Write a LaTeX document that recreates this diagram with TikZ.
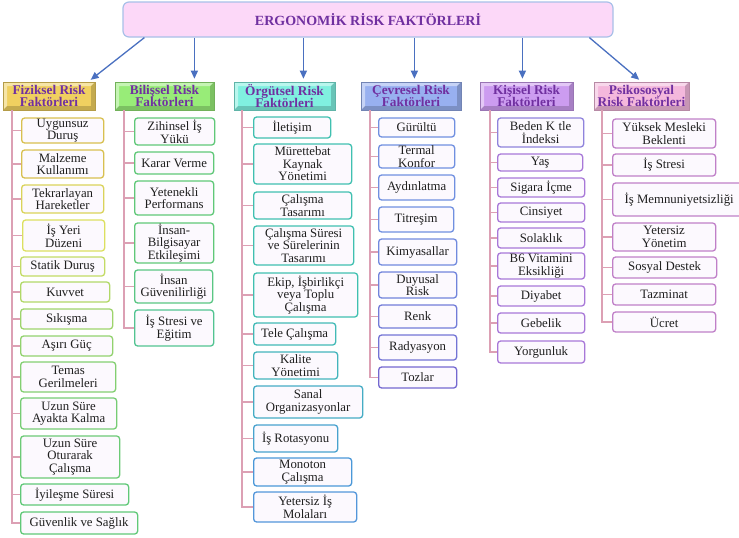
\documentclass[tikz,border=0pt]{standalone}
\usepackage{fontspec}
\setmainfont{Liberation Serif}
\usetikzlibrary{arrows.meta}

\definecolor{mor}{HTML}{7030A0}
\definecolor{okmavi}{HTML}{4A70C0}
\definecolor{dalpembe}{HTML}{DCA0B4}
\definecolor{kutuic}{HTML}{FCF9FE}
\definecolor{anapembe}{HTML}{FCD8F8}
\definecolor{anakenar}{HTML}{A8C0E8}
% başlık dolguları
\definecolor{fizR}{HTML}{F0D060}
\definecolor{bilR}{HTML}{98EC78}
\definecolor{orgR}{HTML}{80F0E0}
\definecolor{cevR}{HTML}{98B0F0}
\definecolor{kisR}{HTML}{CC9CF0}
\definecolor{psiR}{HTML}{F4B8DC}
% kutu kenarları
\definecolor{altin}{HTML}{D8C050}
\definecolor{sari}{HTML}{DCE060}
\definecolor{yesil}{HTML}{60C878}
\definecolor{turkuaz}{HTML}{40C0B0}
\definecolor{camgobegi}{HTML}{4A98D8}
\definecolor{mavi}{HTML}{7090E0}
\definecolor{menekse}{HTML}{7468D0}
\definecolor{eflatun}{HTML}{A878D8}
\definecolor{pembemor}{HTML}{C080C8}

\tikzset{
  anabaslik/.style={draw=anakenar, line width=1.2pt, fill=anapembe, rounded corners=6pt,
    font=\fontsize{14}{16}\selectfont\bfseries, text=mor, minimum width=490pt, minimum height=35pt},
  baslik/.style={draw=#1!75!black, line width=0.6pt, fill=#1, text=mor, align=center, inner sep=0pt,
    font=\fontsize{13.3}{12.6}\selectfont\bfseries, minimum height=28pt,
    path picture={
      \fill[white, opacity=.45] (path picture bounding box.north west) -- (path picture bounding box.north east)
        -- ([shift={(-4pt,-4pt)}]path picture bounding box.north east) -- ([shift={(4pt,-4pt)}]path picture bounding box.north west)
        -- ([shift={(4pt,4pt)}]path picture bounding box.south west) -- (path picture bounding box.south west) -- cycle;
      \fill[black, opacity=.18] (path picture bounding box.south west) -- (path picture bounding box.south east)
        -- (path picture bounding box.north east) -- ([shift={(-4pt,-4pt)}]path picture bounding box.north east)
        -- ([shift={(-4pt,4pt)}]path picture bounding box.south east) -- ([shift={(4pt,4pt)}]path picture bounding box.south west) -- cycle;
    }},
  kutu/.style={draw=#1, line width=1.3pt, fill=kutuic, rounded corners=3pt, anchor=west, align=center,
    inner sep=0pt, font=\fontsize{12.8}{12.6}\selectfont, text=black!88},
  dal/.style={dalpembe, line width=1.3pt},
  ok/.style={okmavi, line width=1.3pt, ->, shorten >=3pt},
}

\begin{document}
\begin{tikzpicture}[x=1pt, y=-1pt, >={Triangle[length=8pt,width=7pt]}]
	\useasboundingbox (0,0) rectangle (739,538);
	% ana başlık
	\node[anabaslik] (ana) at (368,19.5) {ERGONOMİK RİSK FAKTÖRLERİ};
	% kategori başlıkları
	\node[baslik=fizR, minimum width=92pt] (fiz) at (49,96) {Fiziksel Risk\\Faktörleri};
	\node[baslik=bilR, minimum width=99pt] (bil) at (164.5,96) {Bilişsel Risk\\Faktörleri};
	\node[baslik=orgR, minimum width=101pt] (org) at (284.5,96) {Örgütsel Risk\\Faktörleri};
	\node[baslik=cevR, minimum width=100pt] (cev) at (411,96) {Çevresel Risk\\Faktörleri};
	\node[baslik=kisR, minimum width=93pt] (kis) at (526.5,96) {Kişisel Risk\\Faktörleri};
	\node[baslik=psiR, minimum width=95pt] (psi) at (641.5,96) {Psikososyal\\Risk Faktörleri};
	% oklar
	\draw[ok] ([xshift=22pt]ana.south west) -- ([xshift=-7pt]fiz.north east);
	\draw[ok] ([xshift=72pt]ana.south west) coordinate (a2) -- (a2 |- bil.north);
	\draw[ok] ([xshift=181pt]ana.south west) coordinate (a3) -- (a3 |- org.north);
	\draw[ok] ([xshift=292pt]ana.south west) coordinate (a4) -- (a4 |- cev.north);
	\draw[ok] ([xshift=400pt]ana.south west) coordinate (a5) -- (a5 |- kis.north);
	\draw[ok] ([xshift=467pt]ana.south west) -- (psi.north);

	% fiziksel
	\node[kutu=altin, minimum width=82pt, minimum height=25pt] (f1) at (21,130.5) {Uygunsuz\\Duruş};
	\node[kutu=altin, minimum width=82pt, minimum height=28pt] (f2) at (21,164) {Malzeme\\Kullanımı};
	\node[kutu=altin!40!sari, minimum width=82pt, minimum height=28pt] (f3) at (21,199) {Tekrarlayan\\Hareketler};
	\node[kutu=sari, minimum width=82pt, minimum height=31pt] (f4) at (22,235.5) {İş Yeri\\Düzeni};
	\node[kutu=sari!80!yesil, minimum width=84pt, minimum height=19pt] (f5) at (20,266.5) {Statik Duruş};
	\node[kutu=sari!65!yesil, minimum width=89pt, minimum height=20pt] (f6) at (20,292) {Kuvvet};
	\node[kutu=sari!50!yesil, minimum width=92pt, minimum height=20pt] (f7) at (20,319) {Sıkışma};
	\node[kutu=sari!40!yesil, minimum width=92pt, minimum height=20pt] (f8) at (20,346) {Aşırı Güç};
	\node[kutu=sari!28!yesil, minimum width=95pt, minimum height=30pt] (f9) at (20,377) {Temas\\Gerilmeleri};
	\node[kutu=sari!18!yesil, minimum width=96pt, minimum height=31pt] (f10) at (20,413.5) {Uzun Süre\\Ayakta Kalma};
	\node[kutu=sari!10!yesil, minimum width=99pt, minimum height=42pt] (f11) at (20,457) {Uzun Süre\\Oturarak\\Çalışma};
	\node[kutu=yesil, minimum width=108pt, minimum height=21pt] (f12) at (20,494.5) {İyileşme Süresi};
	\node[kutu=yesil, minimum width=117pt, minimum height=22pt] (f13) at (20,523) {Güvenlik ve Sağlık};
	\coordinate (fk) at (12,110);
	\draw[dal] (fk) |- (f13.west) (fk |- f1.west) -- (f1.west) (fk |- f2.west) -- (f2.west)
		(fk |- f3.west) -- (f3.west) (fk |- f4.west) -- (f4.west) (fk |- f5.west) -- (f5.west)
		(fk |- f6.west) -- (f6.west) (fk |- f7.west) -- (f7.west) (fk |- f8.west) -- (f8.west)
		(fk |- f9.west) -- (f9.west) (fk |- f10.west) -- (f10.west) (fk |- f11.west) -- (f11.west)
		(fk |- f12.west) -- (f12.west);

	% bilişsel
	\node[kutu=yesil, minimum width=80pt, minimum height=27pt] (b1) at (134,131.5) {Zihinsel İş\\Yükü};
	\node[kutu=yesil, minimum width=79pt, minimum height=22pt] (b2) at (134,163) {Karar Verme};
	\node[kutu=yesil, minimum width=79pt, minimum height=34pt] (b3) at (134,198) {Yetenekli\\Performans};
	\node[kutu=yesil, minimum width=79pt, minimum height=40pt] (b4) at (134,243) {İnsan-\\Bilgisayar\\Etkileşimi};
	\node[kutu=yesil!80!turkuaz, minimum width=78pt, minimum height=33pt] (b5) at (134,286.5) {İnsan\\Güvenilirliği};
	\node[kutu=yesil!55!turkuaz, minimum width=79pt, minimum height=36pt] (b6) at (134,328) {İş Stresi ve\\Eğitim};
	\coordinate (bk) at (124,110);
	\draw[dal] (bk) |- (b6.west) (bk |- b1.west) -- (b1.west) (bk |- b2.west) -- (b2.west)
		(bk |- b3.west) -- (b3.west) (bk |- b4.west) -- (b4.west) (bk |- b5.west) -- (b5.west);

	% örgütsel
	\node[kutu=turkuaz, minimum width=77pt, minimum height=21pt] (o1) at (253,127.5) {İletişim};
	\node[kutu=turkuaz, minimum width=98pt, minimum height=40pt] (o2) at (253,164) {Mürettebat\\Kaynak\\Yönetimi};
	\node[kutu=turkuaz, minimum width=98pt, minimum height=27pt] (o3) at (253,205.5) {Çalışma\\Tasarımı};
	\node[kutu=turkuaz, minimum width=100pt, minimum height=39pt] (o4) at (253,245.5) {Çalışma Süresi\\ve Sürelerinin\\Tasarımı};
	\node[kutu=turkuaz, minimum width=104pt, minimum height=44pt] (o5) at (253,295) {Ekip, İşbirlikçi\\veya Toplu\\Çalışma};
	\node[kutu=turkuaz!85!camgobegi, minimum width=82pt, minimum height=22pt] (o6) at (253,334) {Tele Çalışma};
	\node[kutu=turkuaz!70!camgobegi, minimum width=84pt, minimum height=27pt] (o7) at (253,365.5) {Kalite\\Yönetimi};
	\node[kutu=turkuaz!50!camgobegi, minimum width=109pt, minimum height=32pt] (o8) at (253,402) {Sanal\\Organizasyonlar};
	\node[kutu=turkuaz!25!camgobegi, minimum width=84pt, minimum height=27pt] (o9) at (253,438.5) {İş Rotasyonu};
	\node[kutu=camgobegi, minimum width=98pt, minimum height=28pt] (o10) at (253,472) {Monoton\\Çalışma};
	\node[kutu=camgobegi!75!mavi, minimum width=103pt, minimum height=30pt] (o11) at (253,507) {Yetersiz İş\\Molaları};
	\coordinate (ok) at (242,110);
	\draw[dal] (ok) |- (o11.west) (ok |- o1.west) -- (o1.west) (ok |- o2.west) -- (o2.west)
		(ok |- o3.west) -- (o3.west) (ok |- o4.west) -- (o4.west) (ok |- o5.west) -- (o5.west)
		(ok |- o6.west) -- (o6.west) (ok |- o7.west) -- (o7.west) (ok |- o8.west) -- (o8.west)
		(ok |- o9.west) -- (o9.west) (ok |- o10.west) -- (o10.west);

	% çevresel
	\node[kutu=mavi, minimum width=76pt, minimum height=19pt] (c1) at (378,127.5) {Gürültü};
	\node[kutu=mavi, minimum width=76pt, minimum height=23pt] (c2) at (378,156.5) {Termal\\Konfor};
	\node[kutu=mavi, minimum width=76pt, minimum height=25pt] (c3) at (378,187.5) {Aydınlatma};
	\node[kutu=mavi, minimum width=75pt, minimum height=25pt] (c4) at (378,219.5) {Titreşim};
	\node[kutu=mavi!85!menekse, minimum width=78pt, minimum height=26pt] (c5) at (378,252) {Kimyasallar};
	\node[kutu=mavi!70!menekse, minimum width=78pt, minimum height=26pt] (c6) at (378,285) {Duyusal\\Risk};
	\node[kutu=mavi!50!menekse, minimum width=78pt, minimum height=23pt] (c7) at (378,316.5) {Renk};
	\node[kutu=mavi!30!menekse, minimum width=78pt, minimum height=25pt] (c8) at (378,347.5) {Radyasyon};
	\node[kutu=menekse, minimum width=78pt, minimum height=21pt] (c9) at (378,377.5) {Tozlar};
	\coordinate (ck) at (370,110);
	\draw[dal] (ck) |- (c9.west) (ck |- c1.west) -- (c1.west) (ck |- c2.west) -- (c2.west)
		(ck |- c3.west) -- (c3.west) (ck |- c4.west) -- (c4.west) (ck |- c5.west) -- (c5.west)
		(ck |- c6.west) -- (c6.west) (ck |- c7.west) -- (c7.west) (ck |- c8.west) -- (c8.west);

	% kişisel
	\node[kutu=mavi!45!eflatun, minimum width=86pt, minimum height=29pt] (k1) at (497,132.5) {Beden K\phantom{ı}tle\\İndeksi};
	\node[kutu=eflatun, minimum width=85pt, minimum height=17pt] (k2) at (497,162.5) {Yaş};
	\node[kutu=eflatun, minimum width=87pt, minimum height=19pt] (k3) at (497,187.5) {Sigara İçme};
	\node[kutu=eflatun, minimum width=87pt, minimum height=19pt] (k4) at (497,212.5) {Cinsiyet};
	\node[kutu=eflatun, minimum width=87pt, minimum height=20pt] (k5) at (497,238) {Solaklık};
	\node[kutu=eflatun, minimum width=87pt, minimum height=26pt] (k6) at (497,266) {B6 Vitamini\\Eksikliği};
	\node[kutu=eflatun, minimum width=87pt, minimum height=20pt] (k7) at (497,296) {Diyabet};
	\node[kutu=eflatun, minimum width=87pt, minimum height=20pt] (k8) at (497,323) {Gebelik};
	\node[kutu=eflatun, minimum width=87pt, minimum height=22pt] (k9) at (497,352) {Yorgunluk};
	\coordinate (kk) at (490,110);
	\draw[dal] (kk) |- (k9.west) (kk |- k1.west) -- (k1.west) (kk |- k2.west) -- (k2.west)
		(kk |- k3.west) -- (k3.west) (kk |- k4.west) -- (k4.west) (kk |- k5.west) -- (k5.west)
		(kk |- k6.west) -- (k6.west) (kk |- k7.west) -- (k7.west) (kk |- k8.west) -- (k8.west);

	% psikososyal
	\node[kutu=pembemor, minimum width=103pt, minimum height=29pt] (p1) at (612,133.5) {Yüksek Mesleki\\Beklenti};
	\node[kutu=pembemor, minimum width=103pt, minimum height=22pt] (p2) at (612,165) {İş Stresi};
	\node[kutu=pembemor, minimum width=133pt, minimum height=33pt] (p3) at (612,199.5) {İş Memnuniyetsizliği};
	\node[kutu=pembemor, minimum width=103pt, minimum height=28pt] (p4) at (612,237) {Yetersiz\\Yönetim};
	\node[kutu=pembemor, minimum width=104pt, minimum height=21pt] (p5) at (612,267.5) {Sosyal Destek};
	\node[kutu=pembemor, minimum width=103pt, minimum height=21pt] (p6) at (612,294.5) {Tazminat};
	\node[kutu=pembemor, minimum width=103pt, minimum height=20pt] (p7) at (612,322) {Ücret};
	\coordinate (pk) at (602,110);
	\draw[dal] (pk) |- (p7.west) (pk |- p1.west) -- (p1.west) (pk |- p2.west) -- (p2.west)
		(pk |- p3.west) -- (p3.west) (pk |- p4.west) -- (p4.west) (pk |- p5.west) -- (p5.west)
		(pk |- p6.west) -- (p6.west);
\end{tikzpicture}
\end{document}
